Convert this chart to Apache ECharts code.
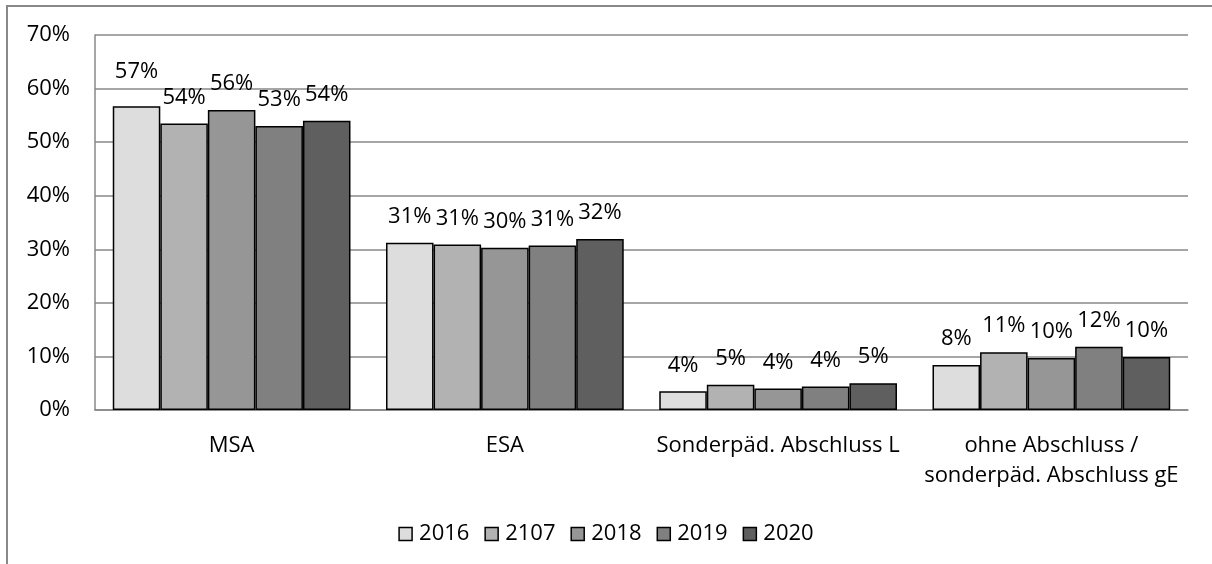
<!DOCTYPE html>
<html>
<head>
<meta charset="utf-8">
<script src="https://cdn.jsdelivr.net/npm/echarts@6/dist/echarts.min.js"></script>
<style>
  html, body { margin: 0; padding: 0; background: #fff; }
  #chart { width: 1212px; height: 564px; }
</style>
</head>
<body>
<div id="chart"></div>
<script>
// categories and years
var categories = ['MSA', 'ESA', 'Sonderpäd. Abschluss L', 'ohne Abschluss /\nsonderpäd. Abschluss gE'];
var years = ['2016', '2107', '2018', '2019', '2020'];

// shares per year, in percent
var values2016 = [56.7, 31.2, 3.5, 8.4];
var values2107 = [53.5, 30.9, 4.7, 10.8];
var values2018 = [56.0, 30.3, 4.0, 9.7];
var values2019 = [53.0, 30.7, 4.4, 11.8];
var values2020 = [54.0, 31.9, 5.0, 9.9];

var yTicks = [0, 10, 20, 30, 40, 50, 60, 70];

var colors = ['#dddddd', '#b2b2b2', '#969696', '#808080', '#5f5f5f'];
var font = '"Open Sans", "Noto Sans", sans-serif';
var fontSize = 22;

var allValues = [values2016, values2107, values2018, values2019, values2020];

var series = years.map(function (year, i) {
    var data = allValues[i].map(function (v, j) {
        // excel pushed the first MSA label up a bit to keep it clear of its neighbour
        if (i === 0 && j === 0) return { value: v, label: { distance: 24 } };
        return v;
    });
    return {
        name: year,
        type: 'bar',
        data: data,
        barGap: '0%',
        barCategoryGap: '13%',
        itemStyle: { color: colors[i], borderColor: '#000', borderWidth: 1.5 },
        label: {
            show: true,
            position: 'top',
            distance: 15,
            color: '#000',
            fontFamily: font,
            fontSize: fontSize,
            formatter: function (p) { return Math.round(p.value) + '%'; }
        }
    };
});

var chart = echarts.init(document.getElementById('chart'));
chart.setOption({
    animation: false,
    graphic: [{
        type: 'rect',
        shape: { x: 7, y: 6, width: 1240, height: 620 },
        style: { fill: 'none', stroke: '#888', lineWidth: 2 },
        silent: true
    }],
    grid: { left: 95, right: 24, top: 35, bottom: 154, containLabel: false },
    legend: {
        top: 518,
        left: 'center',
        itemWidth: 13,
        itemHeight: 13,
        itemGap: 15,
        icon: 'rect',
        textStyle: { fontFamily: font, fontSize: fontSize, color: '#000', padding: [0, 0, 0, 2] },
        itemStyle: { borderColor: '#000', borderWidth: 1.5 },
        data: years
    },
    xAxis: {
        type: 'category',
        data: categories,
        axisLine: { lineStyle: { color: '#888', width: 1.5 } },
        axisTick: { show: false },
        axisLabel: { color: '#000', fontFamily: font, fontSize: fontSize, margin: 21, lineHeight: 30, interval: 0 }
    },
    yAxis: {
        type: 'value',
        min: yTicks[0],
        max: yTicks[yTicks.length - 1],
        interval: 10,
        axisLine: { show: true, lineStyle: { color: '#888', width: 1.5 } },
        axisTick: { show: false },
        splitLine: { lineStyle: { color: '#888', width: 1.5 } },
        axisLabel: { color: '#000', fontFamily: font, fontSize: fontSize, margin: 25, formatter: '{value}%' }
    },
    series: series
});
</script>
</body>
</html>
